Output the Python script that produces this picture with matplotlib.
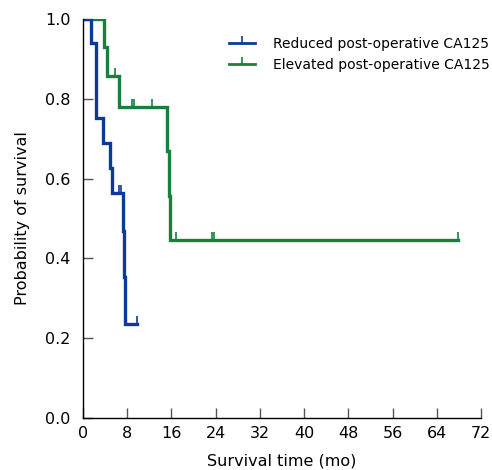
import matplotlib
matplotlib.use("Agg")
import matplotlib.pyplot as plt
from matplotlib.lines import Line2D

# Reduced post-operative CA125 (blue)
blue_t = [0, 1.45, 2.35, 3.55, 4.9, 5.3, 7.15, 7.4, 7.65, 9.7]
blue_s = [1.0, 0.94, 0.752, 0.688, 0.626, 0.565, 0.468, 0.354, 0.236, 0.236]
blue_cens_t = [6.6, 6.9, 9.7]
blue_cens_s = [0.565, 0.565, 0.236]

# Elevated post-operative CA125 (green)
green_t = [0, 3.8, 4.4, 6.5, 15.2, 15.5, 15.8, 67.9]
green_s = [1.0, 0.929, 0.857, 0.78, 0.67, 0.557, 0.446, 0.446]
green_cens_t = [5.8, 8.8, 9.2, 12.4, 16.9, 23.4, 23.7, 67.9]
green_cens_s = [0.857, 0.78, 0.78, 0.78, 0.446, 0.446, 0.446, 0.446]

labels = ["Reduced post-operative CA125", "Elevated post-operative CA125"]
xticks = [0, 8, 16, 24, 32, 40, 48, 56, 64, 72]
yticks = [0.0, 0.2, 0.4, 0.6, 0.8, 1.0]

blue = "#0B3A9B"
green = "#18803C"

plt.rcParams["font.family"] = ["DejaVu Sans"]
fig = plt.figure(figsize=(4.92, 4.70), dpi=100)
ax = fig.add_axes([0.1687, 0.1106, 0.8089, 0.849])

ax.step(green_t, green_s, where="post", color=green, lw=2.4, solid_joinstyle="miter")
ax.plot(green_cens_t, green_cens_s, linestyle="none", marker=2, color=green, ms=6, mew=1.2)
ax.step(blue_t, blue_s, where="post", color=blue, lw=2.4, solid_joinstyle="miter")
ax.plot(blue_cens_t, blue_cens_s, linestyle="none", marker=2, color=blue, ms=6, mew=1.2)

ax.set_xlim(0, 72)
ax.set_ylim(0, 1.0)
ax.set_xticks(xticks)
ax.set_xticklabels([str(v) for v in xticks])
ax.set_yticks(yticks)
ax.set_yticklabels([f"{v:.1f}" for v in yticks])
for s in ["top", "right"]:
    ax.spines[s].set_visible(False)
for s in ["left", "bottom"]:
    ax.spines[s].set_linewidth(1.0)
ax.tick_params(axis="both", direction="in", length=7, width=1, color="#555555",
               labelsize=11.5)
ax.tick_params(axis="x", pad=6)
ax.tick_params(axis="y", pad=9)
ax.set_xlabel("Survival time (mo)", fontsize=11.5, labelpad=9)
ax.set_ylabel("Probability of survival", fontsize=11.5, labelpad=11)

handles = [Line2D([], [], color=blue, lw=2.0, marker=2, ms=5, mew=1.2),
           Line2D([], [], color=green, lw=2.0, marker=2, ms=5, mew=1.2)]
ax.legend(handles, labels, loc="upper left", bbox_to_anchor=(0.345, 0.976),
          frameon=False, fontsize=10, handlelength=1.9, handletextpad=1.3,
          labelspacing=0.5, borderaxespad=0.2)

fig.savefig("out.png", dpi=100)
